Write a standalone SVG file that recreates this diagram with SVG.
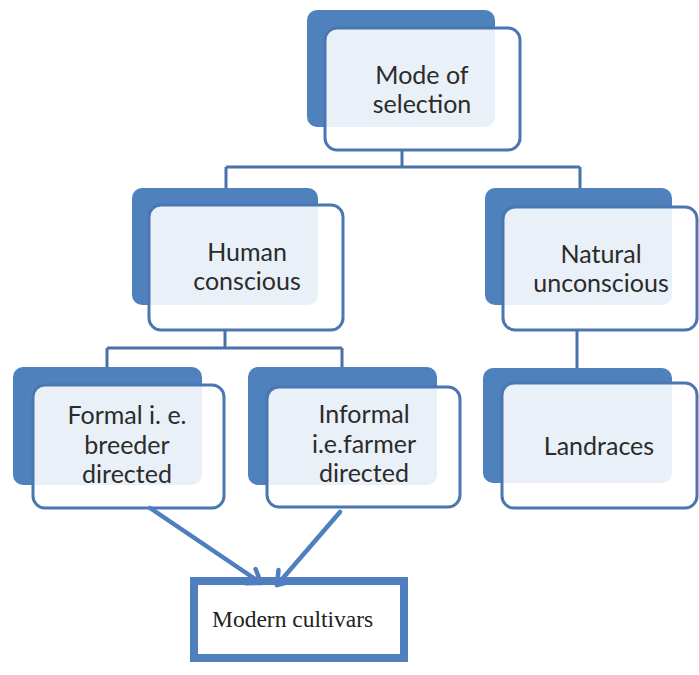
<svg xmlns="http://www.w3.org/2000/svg" width="699" height="675" viewBox="0 0 699 675">
<defs>
<style>
.back{fill:#4f81bd;}
.front{fill:#ffffff;fill-opacity:0.88;stroke:#4a76b1;stroke-width:3;}
.lbl{font-family:Lato,"Open Sans",sans-serif;font-size:25px;fill:#2b2b2b;text-anchor:middle;}
.con{fill:none;stroke:#4a72a8;stroke-width:3;}
.arr{fill:none;stroke:#4f7fbf;stroke-width:4.5;stroke-linecap:round;stroke-linejoin:round;}
</style>
</defs>
<rect width="699" height="675" fill="#ffffff"/>
<g id="mode">
<rect class="back" x="307" y="10" width="188" height="117" rx="10"/>
<rect class="front" x="325" y="28" width="195" height="122" rx="12"/>
<text class="lbl" x="422" y="84">Mode of</text>
<text class="lbl" x="422" y="113">selection</text>
</g>
<g id="human">
<rect class="back" x="132" y="188" width="186" height="117" rx="10"/>
<rect class="front" x="149" y="205" width="194" height="125" rx="12"/>
<text class="lbl" x="247" y="261">Human</text>
<text class="lbl" x="247" y="290">conscious</text>
</g>
<g id="natural">
<rect class="back" x="485" y="188" width="187" height="117" rx="10"/>
<rect class="front" x="503" y="207" width="194" height="123" rx="12"/>
<text class="lbl" x="601" y="263">Natural</text>
<text class="lbl" x="601" y="292">unconscious</text>
</g>
<g id="formal">
<rect class="back" x="13" y="367" width="189" height="118" rx="10"/>
<rect class="front" x="33" y="385" width="191" height="123" rx="12"/>
<text class="lbl" x="127" y="424">Formal i. e.</text>
<text class="lbl" x="127" y="454">breeder</text>
<text class="lbl" x="127" y="483">directed</text>
</g>
<g id="informal">
<rect class="back" x="248" y="367" width="189" height="118" rx="10"/>
<rect class="front" x="267" y="387" width="193" height="120" rx="12"/>
<text class="lbl" x="364" y="423">Informal</text>
<text class="lbl" x="364" y="453">i.e.farmer</text>
<text class="lbl" x="364" y="482">directed</text>
</g>
<g id="landraces">
<rect class="back" x="483" y="368" width="189" height="115" rx="10"/>
<rect class="front" x="502" y="383" width="195" height="125" rx="12"/>
<text class="lbl" x="599" y="455">Landraces</text>
</g>
<g id="modern">
<rect x="194" y="581" width="210" height="77" fill="#ffffff" stroke="#4f7fbf" stroke-width="8"/>
<text x="212" y="627" font-family="Liberation Serif,serif" font-size="23.5" fill="#222">Modern cultivars</text>
</g>
<g id="connectors">
<path class="con" d="M402,150 V167 M226,167 H580 M226,167 V188 M580,167 V188"/>
<path class="con" d="M225,330 V348 M107,348 H342 M107,348 V367 M342,348 V367"/>
<path class="con" d="M577,330 V368"/>
<path class="arr" d="M150,508 L261,583"/>
<path class="arr" d="M255.6,569 L261,583 L246,583.2"/>
<path class="arr" d="M340,512 L277,585"/>
<path class="arr" d="M291.5,581.3 L277,585 L278.5,570.1"/>
</g>
</svg>
